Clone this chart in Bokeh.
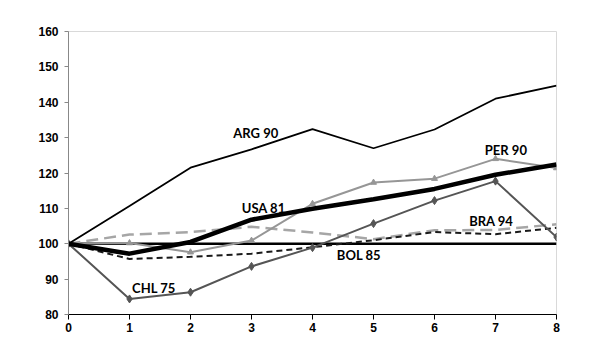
from bokeh.plotting import figure
from bokeh.models import Range1d, FixedTicker, ColumnDataSource
from bokeh.core.properties import value
from bokeh.embed import file_html
from bokeh.resources import INLINE

years = [0, 1, 2, 3, 4, 5, 6, 7, 8]
arg90 = [100, 110.7, 121.5, 126.7, 132.4, 127.0, 132.3, 141.0, 144.7]
per90 = [100, 100.2, 97.6, 100.9, 111.3, 117.3, 118.4, 124.0, 121.4]
usa81 = [100, 97.2, 100.5, 106.8, 109.9, 112.6, 115.5, 119.5, 122.4]
chl75 = [100, 84.4, 86.3, 93.6, 98.9, 105.7, 112.2, 117.7, 101.9]
bra94 = [100, 102.6, 103.3, 104.8, 103.2, 101.3, 103.8, 103.9, 105.5]
bol85 = [100, 95.7, 96.3, 97.2, 99.0, 101.0, 103.3, 102.7, 104.5]
base = [100] * 9

label_text = ["ARG 90", "USA 81", "PER 90", "BRA 94", "BOL 85", "CHL 75"]
label_x = [3.07, 3.2, 7.17, 6.93, 4.76, 1.4]
label_y = [131.3, 110.2, 126.6, 106.3, 96.7, 87.6]

p = figure(width=592, height=352, output_backend="svg", toolbar_location=None,
           x_range=Range1d(0, 8), y_range=Range1d(80, 160),
           min_border_left=68, min_border_right=36, min_border_top=31, min_border_bottom=38)
p.xgrid.visible = False
p.ygrid.visible = False
p.outline_line_color = "#d9d9d9"
p.background_fill_color = "white"
p.border_fill_color = "white"

xa = p.xaxis[0]
xa.ticker = FixedTicker(ticks=years)
xa.axis_line_color = "black"
xa.axis_line_width = 1.2
xa.major_tick_line_color = "black"
xa.major_tick_in = 0
xa.major_tick_out = 5
xa.minor_tick_line_color = None
xa.major_label_text_font = "Liberation Sans"
xa.major_label_text_font_style = "bold"
xa.major_label_text_font_size = "12px"
xa.major_label_text_color = "black"
xa.major_label_standoff = 3

ya = p.yaxis[0]
ya.ticker = FixedTicker(ticks=[80, 90, 100, 110, 120, 130, 140, 150, 160])
ya.axis_line_color = "#888888"
ya.major_tick_line_color = "#888888"
ya.major_tick_in = 0
ya.major_tick_out = 4
ya.minor_tick_line_color = None
ya.major_label_text_font = "Liberation Sans"
ya.major_label_text_font_style = "bold"
ya.major_label_text_font_size = "12px"
ya.major_label_text_color = "black"
ya.major_label_standoff = 6

p.line(years, base, line_color="black", line_width=2.5)
p.line(years, bra94, line_color="#a6a6a6", line_width=2.5, line_dash="12 6")
p.line(years, bol85, line_color="#1a1a1a", line_width=2, line_dash="6 4")
p.line(years, arg90, line_color="black", line_width=1.8)
p.line(years, per90, line_color="#969696", line_width=2)
p.scatter(years, per90, marker="triangle", size=6, fill_color="#969696", line_color="#969696")
p.line(years, chl75, line_color="#555555", line_width=2)
p.scatter(years, chl75, marker="diamond", size=8, fill_color="#555555", line_color="#555555")
p.line(years, usa81, line_color="black", line_width=4.5)

src = ColumnDataSource(dict(x=label_x, y=label_y, t=label_text))
p.text(x="x", y="y", text="t", source=src, text_font=value("Lato"), text_font_style="bold",
       text_font_size="13px", text_align="center", text_baseline="middle", text_color="black")

open("out.html", "w").write(file_html(p, INLINE))
